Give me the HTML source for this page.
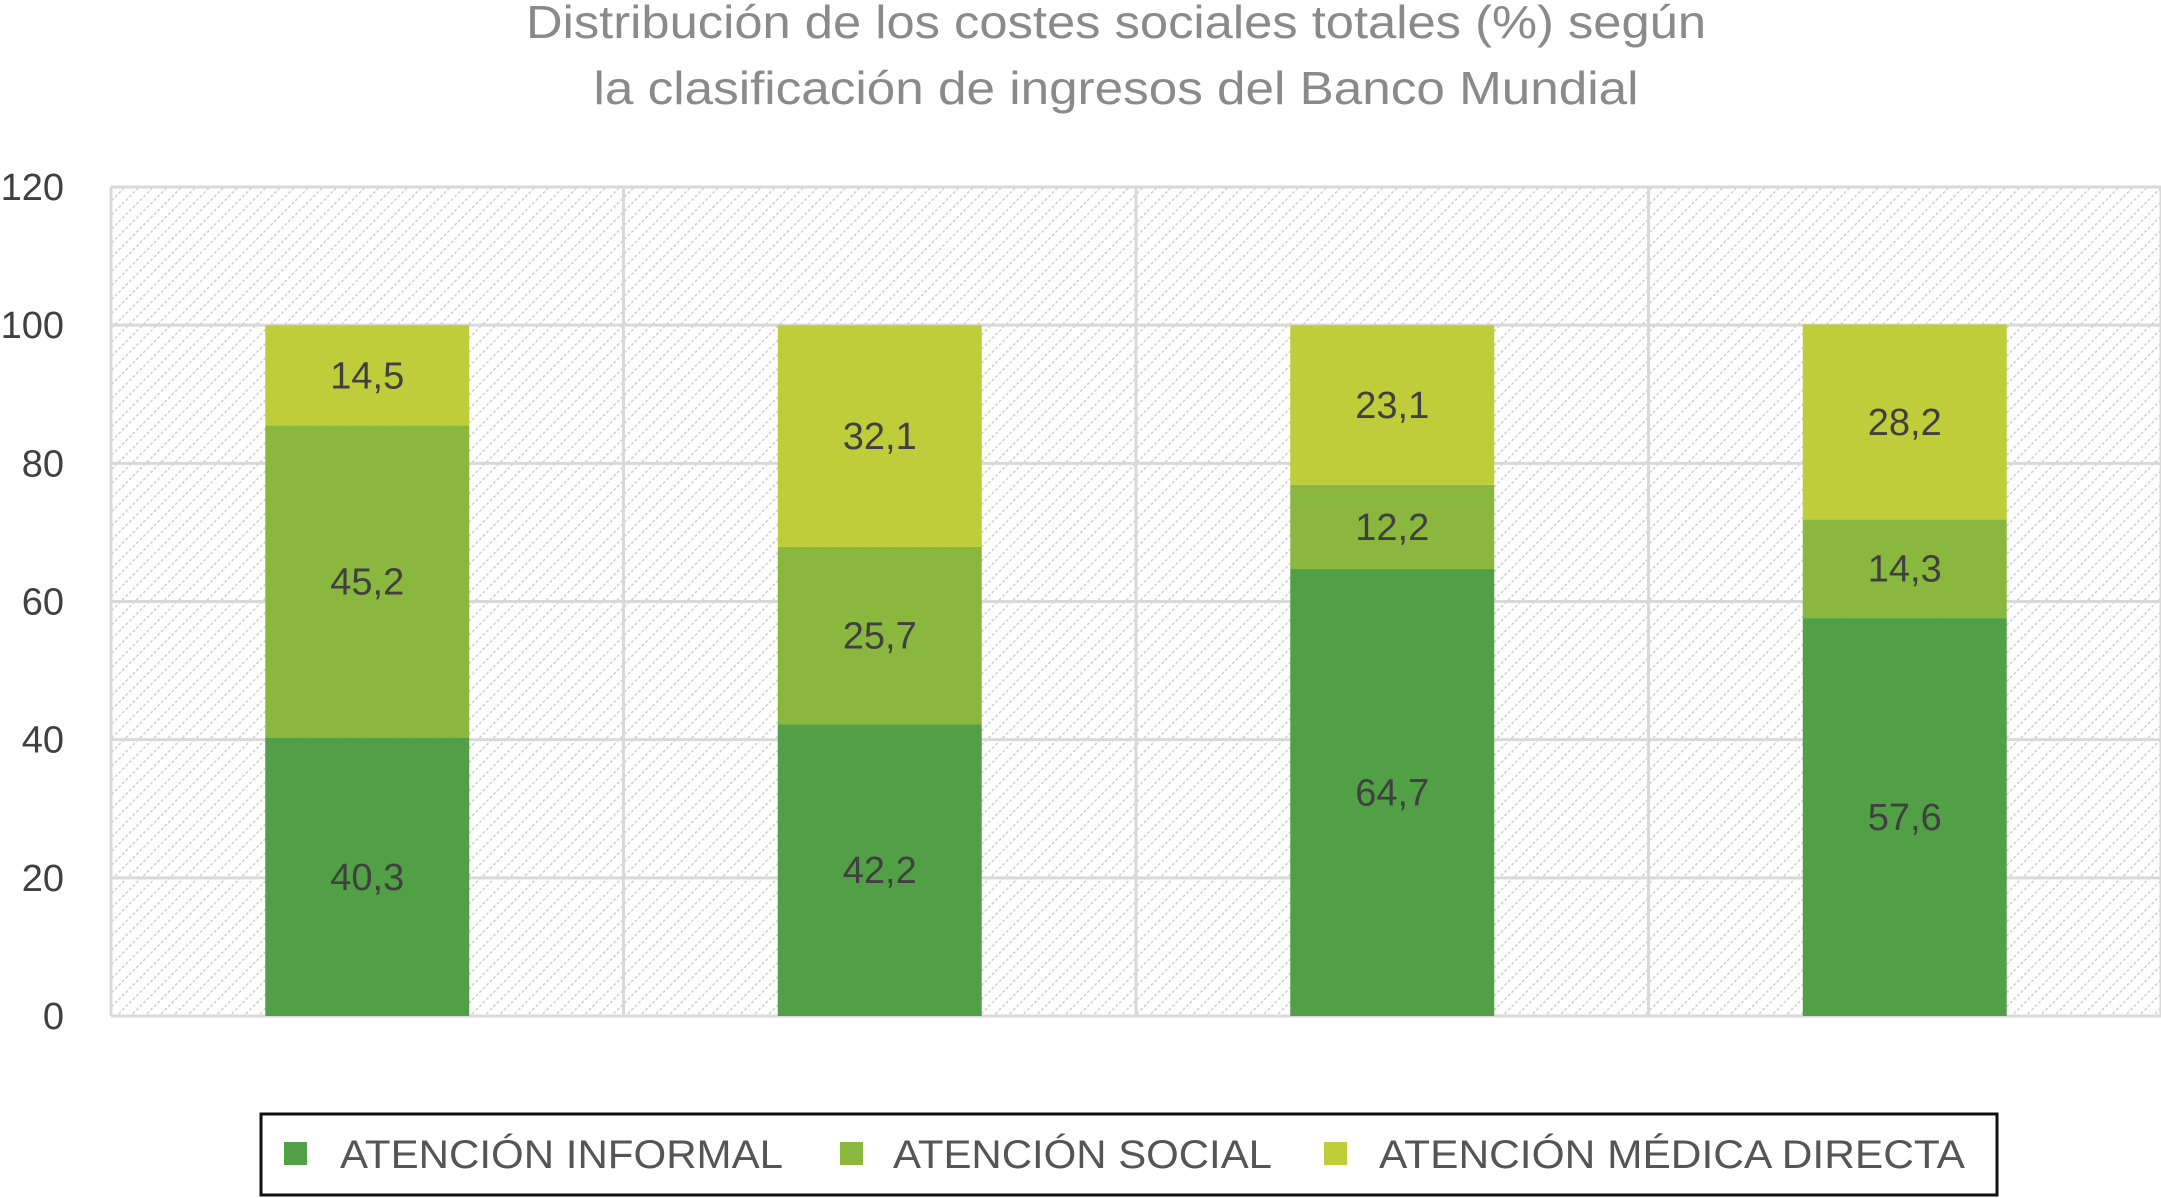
<!DOCTYPE html>
<html><head><meta charset="utf-8"><style>
html,body{margin:0;padding:0;background:#fff;}
svg{display:block;font-family:"Liberation Sans",Arial,sans-serif;}
</style></head><body>
<svg id="chart" width="2161" height="1198" viewBox="0 0 2161 1198">
<defs>
<pattern id="hatch" patternUnits="userSpaceOnUse" width="10" height="10" patternTransform="rotate(45)">
<rect width="10" height="10" fill="#fff"/>
<line x1="0" y1="0" x2="0" y2="10" stroke="#cfcfcf" stroke-width="3" stroke-dasharray="3,2"/>
</pattern>
</defs>
<g fill="#8a8a8a" font-size="46" text-anchor="middle">
<text x="1116" y="38" textLength="1180" lengthAdjust="spacingAndGlyphs">Distribución de los costes sociales totales (%) según</text>
<text x="1116" y="104" textLength="1045" lengthAdjust="spacingAndGlyphs">la clasificación de ingresos del Banco Mundial</text>
</g>
<rect x="111" y="187" width="2050" height="829" fill="url(#hatch)"/>
<g id="grid"></g>
<g id="yticks" font-size="38" fill="#404040" text-anchor="end"></g>
<g id="bars"></g>
<g id="labels" font-size="38" fill="#404040" text-anchor="middle"></g>
<g>
<rect x="261" y="1114" width="1736" height="81" fill="#fff" stroke="#111" stroke-width="3"/>
<g font-size="40" fill="#555">
<rect x="284" y="1142" width="23" height="23" fill="#52a046"/>
<text x="340" y="1168" textLength="443" lengthAdjust="spacingAndGlyphs">ATENCIÓN INFORMAL</text>
<rect x="840" y="1142" width="23" height="23" fill="#8ab83f"/>
<text x="893" y="1168" textLength="379" lengthAdjust="spacingAndGlyphs">ATENCIÓN SOCIAL</text>
<rect x="1324" y="1142" width="23" height="23" fill="#c0cd3a"/>
<text x="1379" y="1168" textLength="586" lengthAdjust="spacingAndGlyphs">ATENCIÓN MÉDICA DIRECTA</text>
</g>
</g>
</svg>
<script>
const categories = ["Baja", "Media-baja", "Media-alta", "Alta"];
const informal = [40.3, 42.2, 64.7, 57.6];
const social = [45.2, 25.7, 12.2, 14.3];
const medica = [14.5, 32.1, 23.1, 28.2];
const yTicks = [0, 20, 40, 60, 80, 100, 120];

const NS = "http://www.w3.org/2000/svg";
const X0 = 111, X1 = 2161, Y0 = 1016, Y1 = 187, YMAX = 120;
const step = (X1 - X0) / categories.length;
const barW = 204;
function y(v){ return Y0 - (v / YMAX) * (Y0 - Y1); }
function xc(i){ return X0 + step * (i + 0.5); }
function mk(tag, attrs, parent){
  const e = document.createElementNS(NS, tag);
  for (const k in attrs) e.setAttribute(k, attrs[k]);
  parent.appendChild(e); return e;
}
const grid = document.getElementById('grid');
yTicks.forEach(t => {
  const l = mk('line', {x1: X0, x2: X1, y1: y(t), y2: y(t), stroke: '#d9d9d9', 'stroke-width': 3}, grid);
  
  
  const tx = mk('text', {x: 64, y: y(t) + 13}, document.getElementById('yticks'));
  tx.textContent = t;
  
  
});
for (let i = 0; i <= categories.length; i++){
  const l = mk('line', {x1: X0 + step*i, x2: X0 + step*i, y1: Y1, y2: Y0, stroke: '#d9d9d9', 'stroke-width': 3}, grid);
  
  
}
const series = [[informal, '#52a046', 'informal'], [social, '#8ab83f', 'social'], [medica, '#c0cd3a', 'medica']];
const bars = document.getElementById('bars'), labels = document.getElementById('labels');
categories.forEach((c, i) => {
  let base = 0;
  series.forEach(([vals, col, nm]) => {
    const v = vals[i];
    const r = mk('rect', {x: xc(i) - barW/2, y: y(base + v), width: barW, height: y(base) - y(base + v), fill: col}, bars);
    
    
    const t = mk('text', {x: xc(i), y: y(base + v/2) + 13}, labels);
    t.textContent = v.toFixed(1).replace('.', ',');
    
    
    base += v;
  });
});
</script>
</body></html>
